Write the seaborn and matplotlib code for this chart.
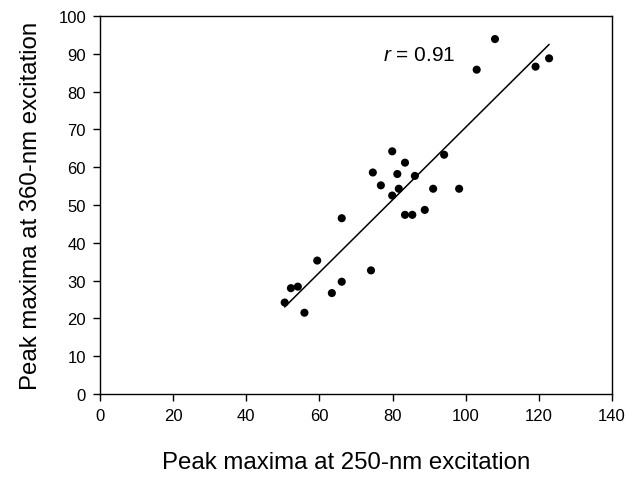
import matplotlib
matplotlib.use("Agg")
import matplotlib.pyplot as plt
import seaborn as sns
import pandas as pd

ex250 = [50.5, 52.2, 54.1, 55.9, 59.4, 63.4, 66.1, 66.1, 74.1, 74.6, 76.8, 79.9, 79.9, 81.3,
         81.7, 83.4, 83.4, 85.4, 86.1, 88.8, 91.1, 94.1, 98.2, 103.0, 108.0, 119.1, 122.8]
ex360 = [24.2, 28.0, 28.4, 21.5, 35.3, 26.7, 29.7, 46.5, 32.7, 58.6, 55.2, 64.2, 52.5, 58.2,
         54.3, 61.2, 47.4, 47.4, 57.7, 48.7, 54.3, 63.3, 54.3, 85.8, 93.9, 86.6, 88.8]

df = pd.DataFrame({'x': ex250, 'y': ex360})

sns.set_style('ticks')
plt.rcParams['font.family'] = ['Liberation Sans', 'DejaVu Sans']
plt.rcParams['mathtext.fontset'] = 'custom'
plt.rcParams['mathtext.rm'] = 'Liberation Sans'
plt.rcParams['mathtext.it'] = 'Liberation Sans:italic'
plt.rcParams['text.color'] = 'black'
plt.rcParams['axes.labelcolor'] = 'black'

fig = plt.figure(figsize=(6.3, 4.81), dpi=100)
ax = fig.add_axes([100/630, 1-395/481, 512/630, 378/481])

sns.regplot(data=df, x='x', y='y', ax=ax, ci=None, truncate=True, color='black',
            scatter_kws={'s': 34, 'edgecolor': 'none', 'alpha': 1}, line_kws={'lw': 1.1})

ax.set_xlim(0, 140)
ax.set_ylim(0, 100)
ax.set_xticks(range(0, 141, 20))
ax.set_yticks(range(0, 101, 10))
for s in ax.spines.values():
    s.set_visible(True)
    s.set_color('black')
    s.set_linewidth(1.0)
ax.tick_params(direction='out', length=5, width=1, colors='black', labelsize=12, pad=5)
ax.set_xlabel('Peak maxima at 250-nm excitation', fontsize=17.3, labelpad=20)
ax.xaxis.label.set_x(0.48)
ax.set_ylabel('Peak maxima at 360-nm excitation', fontsize=17.3, labelpad=12)
ax.text(77.4, 89.8, '$\\it{r}$ = 0.91', fontsize=15, va='center', ha='left')

fig.savefig('out.png', dpi=100)
